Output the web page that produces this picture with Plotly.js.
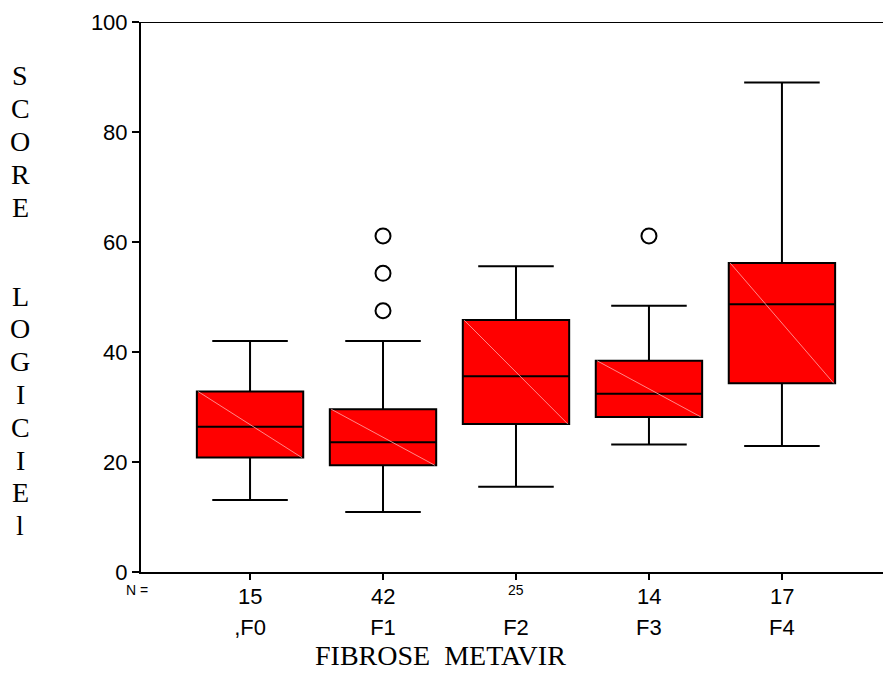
<!DOCTYPE html>
<html>
<head>
<meta charset="utf-8">
<script src="https://cdn.plot.ly/plotly-3.0.1.min.js"></script>
<style>html,body{margin:0;padding:0;background:#fff;}#chart{width:883px;height:676px;}</style>
</head>
<body>
<div id="chart"></div>
<script>
// ---- data ----
var categories = [",F0", "F1", "F2", "F3", "F4"];
var nCounts    = ["15", "42", "25", "14", "17"];
var lowerFence = [13.1, 10.9, 15.5, 23.2, 22.9];
var q1Values   = [20.8, 19.4, 26.9, 28.2, 34.3];
var medians    = [26.4, 23.6, 35.6, 32.4, 48.7];
var q3Values   = [32.8, 29.6, 45.8, 38.4, 56.2];
var upperFence = [42.0, 42.0, 55.6, 48.4, 89.0];
var outlierCat = [1, 1, 1, 3];
var outlierVal = [61.1, 54.3, 47.5, 61.1];
var yTicks     = [0, 20, 40, 60, 80, 100];
var yWord1 = ["S", "C", "O", "R", "E"];
var yWord2 = ["L", "O", "G", "I", "C", "I", "E", "l"];
var xTitle = "FIBROSE\u00a0 METAVIR";

var sans = "Liberation Sans, Arial, sans-serif";
var serif = "Liberation Serif, Times New Roman, serif";

var pos = categories.map(function (_, i) { return i; });
var boxW = 0.8;

var boxTrace = {
  type: "box",
  x: pos,
  q1: q1Values,
  median: medians,
  q3: q3Values,
  lowerfence: lowerFence,
  upperfence: upperFence,
  boxpoints: false,
  width: boxW,
  whiskerwidth: 0.71,
  fillcolor: "#ff0000",
  line: { color: "#000000", width: 2 },
  hoverinfo: "skip",
  showlegend: false
};

// faint diagonal inside each box (artefact of the original rendering)
var dx = [], dy = [];
pos.forEach(function (p, i) {
  dx.push(p - boxW / 2 + 0.01, p + boxW / 2 - 0.01, null);
  dy.push(q3Values[i], q1Values[i], null);
});
var diagTrace = {
  type: "scatter", mode: "lines", x: dx, y: dy,
  line: { color: "rgba(255,160,160,0.85)", width: 1 },
  hoverinfo: "skip", showlegend: false
};

var outTrace = {
  type: "scatter", mode: "markers",
  x: outlierCat, y: outlierVal,
  marker: { symbol: "circle-open", size: 15, color: "#000000", line: { width: 2, color: "#000000" } },
  hoverinfo: "skip", showlegend: false
};

var annotations = [];
// N counts just under the ticks (F2's is printed small and raised in the original)
nCounts.forEach(function (n, i) {
  var small = (i === 2);
  annotations.push({
    text: n, x: i, xref: "x", y: 0, yref: "paper",
    yanchor: "middle", xanchor: "center", yshift: small ? -18 : -24,
    showarrow: false, font: { family: sans, size: small ? 14 : 22, color: "#000" }
  });
});
annotations.push({
  text: "N =", x: -0.006, xref: "paper", y: -0.033, yref: "paper",
  xanchor: "center", yanchor: "middle", showarrow: false,
  font: { family: sans, size: 14, color: "#000" }
});
annotations.push({
  text: xTitle, x: 0.403, xref: "paper", y: -0.151, yref: "paper",
  xanchor: "center", yanchor: "middle", showarrow: false,
  font: { family: serif, size: 28, color: "#000" }
});
// vertical stacked y title letters (pixel positions converted to paper)
var plotTop = 22, plotH = 550;
function pyToPaper(py) { return 1 - (py - plotTop) / plotH; }
var step = 32.8, word1Top = 76, word2Top = 296;
yWord1.forEach(function (ch, k) {
  annotations.push({
    text: ch, x: -0.163, xref: "paper", y: pyToPaper(word1Top + k * step), yref: "paper",
    xanchor: "center", yanchor: "middle", showarrow: false,
    font: { family: serif, size: 28, color: "#000" }
  });
});
yWord2.forEach(function (ch, k) {
  annotations.push({
    text: ch, x: -0.163, xref: "paper", y: pyToPaper(word2Top + k * step), yref: "paper",
    xanchor: "center", yanchor: "middle", showarrow: false,
    font: { family: serif, size: 28, color: "#000" }
  });
});

var layout = {
  width: 883, height: 676,
  margin: { l: 141, r: 0, t: 22, b: 104, pad: 0 },
  paper_bgcolor: "#ffffff", plot_bgcolor: "#ffffff",
  showlegend: false,
  xaxis: {
    range: [-0.82, 4.76], showgrid: false, zeroline: false,
    showline: true, linecolor: "#000", linewidth: 2,
    ticks: "outside", ticklen: 6, tickwidth: 2, tickcolor: "#000",
    tickvals: pos, ticktext: categories,
    ticklabelstandoff: 29,
    tickfont: { family: sans, size: 22, color: "#000" },
    fixedrange: true
  },
  yaxis: {
    range: [0, 100], showgrid: false, zeroline: false,
    showline: true, linecolor: "#000", linewidth: 2,
    ticks: "outside", ticklen: 7, tickwidth: 2, tickcolor: "#000",
    tickvals: yTicks, ticktext: yTicks.map(String),
    tickfont: { family: sans, size: 22, color: "#000" },
    fixedrange: true
  },
  shapes: [{
    type: "line", xref: "paper", yref: "y", x0: 0, x1: 1, y0: 100, y1: 100,
    line: { color: "#000", width: 2 }
  }],
  annotations: annotations
};

Plotly.newPlot("chart", [boxTrace, diagTrace, outTrace], layout, { staticPlot: true, displayModeBar: false });
</script>
</body>
</html>
